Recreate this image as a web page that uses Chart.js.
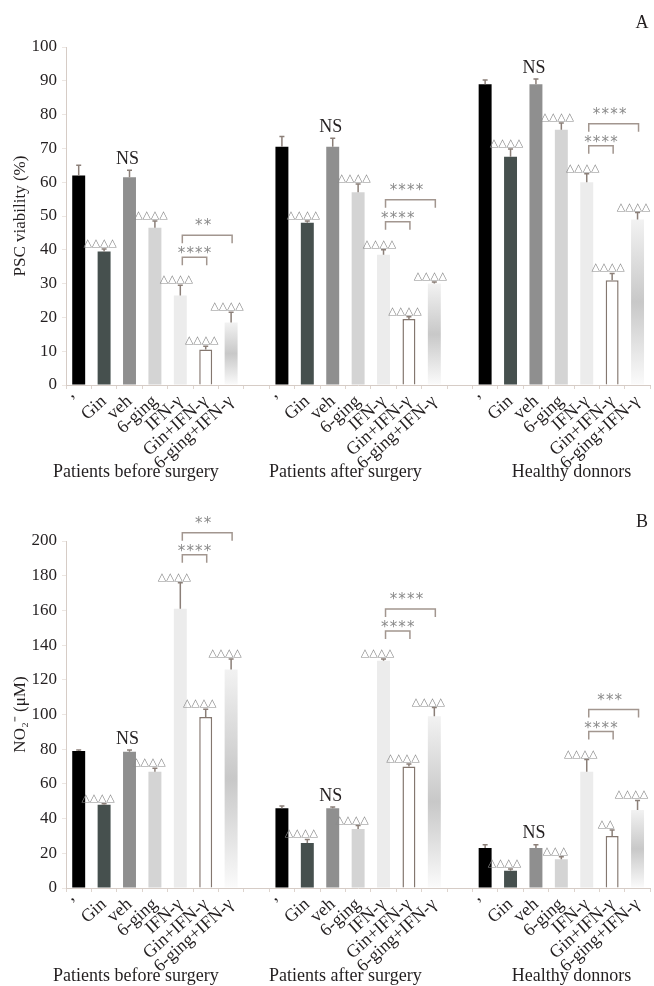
<!DOCTYPE html>
<html><head><meta charset="utf-8">
<script src="https://cdn.jsdelivr.net/npm/chart.js@4.4.0/dist/chart.umd.min.js"></script>
<style>html,body{margin:0;padding:0;background:#fff;overflow:hidden;} canvas{display:block;}</style>
</head><body>
<canvas id="cA" width="654" height="490"></canvas>
<canvas id="cB" width="654" height="496"></canvas>
<script>
// ---------- DATA ----------
const treatments = ["’", "Gin", "veh", "6-ging", "IFN-γ", "Gin+IFN-γ", "6-ging+IFN-γ"];
const groups = ["Patients before surgery", "Patients after surgery", "Healthy donnors"];

// Panel A: PSC viability (%)
const viabBefore  = [62, 39.5, 61.5, 46.5, 26.5, 10.5, 18.5];
const viabAfter   = [70.5, 48, 70.5, 57, 38.5, 19.5, 30];
const viabHealthy = [89, 67.5, 89, 75.5, 60, 31, 49];
const viabErrBefore  = [3, 0.7, 2, 2, 3, 1, 3];
const viabErrAfter   = [3, 0.5, 2.5, 2.5, 1.5, 0.7, 0.5];
const viabErrHealthy = [1.2, 2.3, 1.5, 2, 2.5, 2, 2];
const viabMarksBefore  = ["", "△△△△", "NS", "△△△△", "△△△△", "△△△△", "△△△△"];
const viabMarksAfter   = ["", "△△△△", "NS", "△△△△", "△△△△", "△△△△", "△△△△"];
const viabMarksHealthy = ["", "△△△△", "NS", "△△△△", "△△△△", "△△△△", "△△△△"];
const viabStars = [["****", "**"], ["****", "****"], ["****", "****"]];
const viabTicks = [0, 10, 20, 30, 40, 50, 60, 70, 80, 90, 100];

// Panel B: NO2- (µM)
const no2Before  = [79, 48, 78.5, 67, 161, 98.5, 126];
const no2After   = [46, 26, 46, 34, 131, 70, 99];
const no2Healthy = [23, 10, 23, 16.5, 67, 30, 45];
const no2ErrBefore  = [0.5, 0.5, 1, 2, 15, 4.5, 6];
const no2ErrAfter   = [1.3, 2, 0.7, 2, 1, 1.5, 5];
const no2ErrHealthy = [2, 1, 2, 1.5, 7, 3.5, 5.5];
const no2MarksBefore  = ["", "△△△△", "NS", "△△△△", "△△△△", "△△△△", "△△△△"];
const no2MarksAfter   = ["", "△△△△", "NS", "△△△△", "△△△△", "△△△△", "△△△△"];
const no2MarksHealthy = ["", "△△△△", "NS", "△△△", "△△△△", "△△", "△△△△"];
const no2Stars = [["****", "**"], ["****", "****"], ["****", "***"]];
const no2Ticks = [0, 20, 40, 60, 80, 100, 120, 140, 160, 180, 200];

// ---------- helpers ----------
const join3 = (a, b, c, gap) => [...a, gap, ...b, gap, ...c];
const xLabels = join3(treatments, treatments, treatments, "");

const SERIF = "'Liberation Serif', 'Times New Roman', serif";
const TXT = '#231f20';
Chart.defaults.font.family = SERIF;
Chart.defaults.color = TXT;

const fills = ['#000000', '#46504e', '#8f8f8f', '#d4d4d4', '#ececec', '#ffffff', null];

function barFill(c) {
  const t = c.dataIndex % 8;
  if (t !== 6) return fills[t];
  const chart = c.chart, ys = chart.scales.y;
  if (!chart.chartArea || !ys || c.raw == null) return '#dcdcdc';
  const top = ys.getPixelForValue(c.raw), bot = ys.getPixelForValue(0);
  if (!isFinite(top) || !isFinite(bot)) return '#dcdcdc';
  const g = chart.ctx.createLinearGradient(0, top, 0, bot);
  g.addColorStop(0, '#f2f2f2');
  g.addColorStop(0.5, '#c8c8c8');
  g.addColorStop(1, '#fbfbfb');
  return g;
}

function spaced(ctx, str, cx, cy, step, font, color, baseShift) {
  const chars = Array.from(str);
  ctx.font = font; ctx.fillStyle = color;
  ctx.textAlign = 'center'; ctx.textBaseline = 'alphabetic';
  const x0 = cx - step * (chars.length - 1) / 2;
  chars.forEach((ch, k) => ctx.fillText(ch, x0 + k * step, cy + baseShift));
}

const annotPlugin = {
  id: 'annot',
  afterDatasetsDraw(chart, args, o) {
    const ctx = chart.ctx, ys = chart.scales.y;
    const meta = chart.getDatasetMeta(0);
    const vals = chart.data.datasets[0].data;
    const tops = [];
    ctx.save();
    vals.forEach((v, i) => {
      if (v == null) return;
      const x = meta.data[i].x;
      const e = o.err[i] || 0;
      const yv = ys.getPixelForValue(v), yt = ys.getPixelForValue(v + e);
      tops[i] = yt;
      ctx.strokeStyle = '#8b7f78'; ctx.lineWidth = 1.5;
      ctx.beginPath();
      ctx.moveTo(x, yv); ctx.lineTo(x, yt);
      ctx.moveTo(x - 2.5, yt); ctx.lineTo(x + 2.5, yt);
      ctx.stroke();
      const m = o.marks[i];
      if (m === 'NS') {
        ctx.font = '18px ' + SERIF; ctx.fillStyle = TXT;
        ctx.textAlign = 'center'; ctx.textBaseline = 'middle';
        ctx.fillText(m, x - 2, yt - 11);
      } else if (m) {
        spaced(ctx, m, x + o.markDx, yt - 7, 8.3, "11px 'DejaVu Sans'", '#8a8a8a', 4);
      }
    });
    // significance brackets
    o.stars.forEach((pair, g) => {
      const b = g * 8, iI = b + 4, iG = b + 5, i6 = b + 6;
      const xI = meta.data[iI].x + 2, xG = meta.data[iG].x + 1, x6 = meta.data[i6].x + 1;
      const innerTop = Math.min(tops[iI], tops[iG]) - 28;
      const outerTop = Math.min(innerTop, tops[i6]) - 22;
      ctx.strokeStyle = '#a2968f'; ctx.lineWidth = 1.5;
      [[xI, xG, innerTop], [xI, x6, outerTop]].forEach(([a, z, t]) => {
        ctx.beginPath();
        ctx.moveTo(a, t + 8); ctx.lineTo(a, t); ctx.lineTo(z, t); ctx.lineTo(z, t + 8);
        ctx.stroke();
      });
      spaced(ctx, pair[0], (xI + xG) / 2, innerTop - 8, 8.7, "15px 'DejaVu Sans'", '#8a8a8a', 9);
      spaced(ctx, pair[1], (xI + x6) / 2 - 4, outerTop - 14, 8.7, "15px 'DejaVu Sans'", '#8a8a8a', 9);
    });
    ctx.restore();
  },
  afterDraw(chart, args, o) {
    const ctx = chart.ctx, xs = chart.scales.x;
    ctx.save();
    ctx.fillStyle = TXT; ctx.textAlign = 'center'; ctx.textBaseline = 'middle';
    ctx.font = '18px ' + SERIF;
    groups.forEach((g, k) => ctx.fillText(g, xs.getPixelForValue(o.groupAt[k]), o.groupY));
    ctx.font = '18px ' + SERIF;
    ctx.fillText(o.letter, o.letterX, o.letterY);
    ctx.restore();
  }
};

function makeChart(id, data, err, marks, stars, ticks, maxV, title, padTop, xH, groupY, letter, letterY, markDx) {
  return new Chart(document.getElementById(id), {
    type: 'bar',
    data: {
      labels: xLabels,
      datasets: [{
        data: data,
        backgroundColor: barFill,
        borderColor: (c) => (c.dataIndex % 8 === 5 ? '#84776f' : 'rgba(0,0,0,0)'),
        borderWidth: (c) => (c.dataIndex % 8 === 5 ? 1.5 : 0),
        categoryPercentage: 1,
        barPercentage: 0.51
      }]
    },
    options: {
      responsive: false,
      animation: false,
      devicePixelRatio: 1,
      layout: { padding: { top: padTop, left: 0, right: 0, bottom: 0 } },
      plugins: {
        legend: { display: false },
        tooltip: { enabled: false },
        annot: { err, marks, stars, markDx, groupAt: [2.25, 10.5, 19.4], groupY, letter, letterX: 642, letterY }
      },
      scales: {
        x: {
          type: 'category',
          offset: true,
          grid: { display: true, offset: true, drawOnChartArea: false, drawTicks: true, tickLength: 4, tickColor: '#ddd4ce' },
          border: { display: true, color: '#d6ccc6', width: 1 },
          ticks: { autoSkip: false, minRotation: 42, maxRotation: 42, padding: 2, color: TXT, font: { size: 18, family: SERIF } },
          afterFit: (s) => { s.height = xH; }
        },
        y: {
          min: 0, max: maxV,
          afterBuildTicks: (s) => { s.ticks = ticks.map(v => ({ value: v })); },
          grid: { display: true, drawOnChartArea: false, drawTicks: true, tickLength: 4, tickColor: '#ece6e2' },
          border: { display: true, color: '#d6ccc6', width: 1 },
          ticks: { padding: 5, color: TXT, font: { size: 17, family: SERIF } },
          title: { display: true, text: title, color: TXT, font: { size: 17, family: SERIF }, padding: { top: 10, bottom: 0 } },
          afterFit: (s) => { s.width = 66; }
        }
      }
    },
    plugins: [annotPlugin]
  });
}

makeChart('cA',
  join3(viabBefore, viabAfter, viabHealthy, null),
  join3(viabErrBefore, viabErrAfter, viabErrHealthy, null),
  join3(viabMarksBefore, viabMarksAfter, viabMarksHealthy, ""),
  viabStars, viabTicks, 100, 'PSC viability (%)', 47, 105, 472, 'A', 23, -4);

makeChart('cB',
  join3(no2Before, no2After, no2Healthy, null),
  join3(no2ErrBefore, no2ErrAfter, no2ErrHealthy, null),
  join3(no2MarksBefore, no2MarksAfter, no2MarksHealthy, ""),
  no2Stars, no2Ticks, 200, 'NO₂⁻ (μM)', 51, 98, 486, 'B', 32, -6);
</script>
</body></html>
